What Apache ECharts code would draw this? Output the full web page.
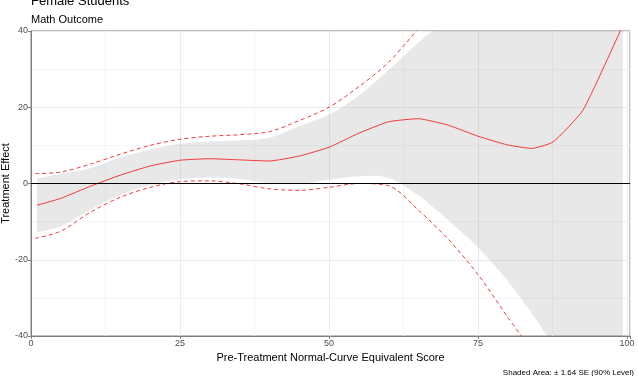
<!DOCTYPE html>
<html>
<head>
<meta charset="utf-8">
<script src="https://cdn.jsdelivr.net/npm/echarts@6/dist/echarts.min.js"></script>
<style>
  html, body { margin: 0; padding: 0; background: #fff; }
  #chart { width: 638px; height: 376px; }
</style>
</head>
<body>
<div id="chart"></div>
<script>
// fitted treatment effect
const fitX = [1, 5, 10, 15, 20, 25, 30, 35, 40, 45, 50, 55, 60, 65, 70, 75, 80, 84, 87.6, 92.6, 99];
const fitY = [-5.7, -3.9, -0.7, 2.2, 4.6, 6.1, 6.5, 6.2, 5.9, 7.2, 9.5, 13.2, 16.2, 17.0, 15.3, 12.4, 10.1, 9.2, 10.9, 19.2, 40.5];

// dashed bounds
const upX = [0.7, 5, 10, 15, 20, 25, 30, 35, 40, 45, 50, 55, 60, 64.8];
const upY = [2.6, 3.0, 5.1, 7.7, 10.0, 11.6, 12.4, 12.8, 13.6, 16.5, 20.0, 25.4, 31.8, 40.3];
const loX = [0.7, 5, 10, 15, 20, 25, 30, 35, 40, 45, 50, 55, 60, 65, 70, 75, 80, 82.4];
const loY = [-14.4, -12.5, -7.5, -3.6, -1.0, 0.5, 0.7, -0.1, -1.4, -1.8, -1.0, 0.0, -0.6, -7.0, -14.6, -23.9, -35.1, -40.3];

// shaded area (+/- 1.64 SE)
const bandX = [1, 5, 10, 15, 20, 25, 30, 35, 40, 45, 50, 55, 60, 65, 67.5, 70, 75, 80, 85, 86.8, 90, 95, 99.3];
const bandHi = [1.3, 2.5, 4.0, 6.8, 8.9, 10.4, 11.0, 11.3, 12.0, 15.0, 18.1, 23.1, 29.8, 37.0, 40, 40, 40, 40, 40, 40, 40, 40, 40];
const bandLo = [-12.7, -11.2, -6.8, -3.0, -0.3, 1.1, 1.6, 1.2, 0.1, 0.0, 1.0, 1.9, 1.5, -3.1, -6.3, -9.6, -16.8, -25.6, -36.2, -40, -40, -40, -40];

const xTicks = [0, 25, 50, 75, 100];
const yTicks = [-40, -20, 0, 20, 40];

const pairs = (xs, ys) => xs.map((x, i) => [x, ys[i]]);

// catmull-rom curve through pixel points, as svg path commands
function curve(pts, start) {
    let d = (start ? 'M' : 'L') + pts[0][0] + ' ' + pts[0][1];
    for (let i = 0; i < pts.length - 1; i++) {
        const p0 = pts[i - 1] || pts[i], p1 = pts[i], p2 = pts[i + 1], p3 = pts[i + 2] || p2;
        const c1 = [p1[0] + (p2[0] - p0[0]) / 6, p1[1] + (p2[1] - p0[1]) / 6];
        const c2 = [p2[0] - (p3[0] - p1[0]) / 6, p2[1] - (p3[1] - p1[1]) / 6];
        d += ' C' + c1.join(' ') + ' ' + c2.join(' ') + ' ' + p2.join(' ');
    }
    return d;
}

const chart = echarts.init(document.getElementById('chart'));
const fontFamily = '"Liberation Sans", Arial, sans-serif';
const tickColor = '#4d4d4d';

let option = {
    animation: false,
    backgroundColor: '#fff',
    textStyle: { fontFamily: fontFamily },
    title: [
        {
            text: 'Female Students', left: 31, top: -5, padding: 0,
            textStyle: { fontSize: 13, fontWeight: 'normal', color: '#000', fontFamily: fontFamily }
        },
        {
            text: 'Math Outcome', left: 31, top: 14, padding: 0,
            textStyle: { fontSize: 11, fontWeight: 'normal', color: '#000', fontFamily: fontFamily }
        },
        {
            text: 'Shaded Area: \u00b1 1.64 SE (90% Level)', right: 4, top: 369, padding: 0,
            textStyle: { fontSize: 8, fontWeight: 'normal', color: '#000', fontFamily: fontFamily }
        }
    ],
    grid: {
        left: 31, right: 8, top: 31, bottom: 40,
        outerBoundsMode: 'none', containLabel: false,
        show: true, borderColor: '#7f7f7f', borderWidth: 1, backgroundColor: '#fff'
    },
    xAxis: {
        type: 'value', min: 0, max: 100.5, interval: 25,
        name: 'Pre-Treatment Normal-Curve Equivalent Score',
        nameLocation: 'middle', nameGap: 16, nameMoveOverlap: false,
        nameTextStyle: { fontSize: 11, color: '#000' },
        axisLine: { show: true, onZero: false, lineStyle: { color: '#7f7f7f' } },
        axisTick: { show: true, length: 3, lineStyle: { color: '#7f7f7f' } },
        axisLabel: {
            fontSize: 9, color: tickColor, margin: 3, showMaxLabel: true,
            formatter: v => xTicks.indexOf(v) >= 0 ? String(v) : ''
        },
        splitLine: { show: true, lineStyle: { color: '#ebebeb', width: 1 } },
        minorTick: { show: false, splitNumber: 2 },
        minorSplitLine: { show: true, lineStyle: { color: '#f4f4f4', width: 1 } }
    },
    yAxis: {
        type: 'value', min: -40, max: 40, interval: 20,
        name: 'Treatment Effect',
        nameLocation: 'middle', nameGap: 20, nameMoveOverlap: false,
        nameTextStyle: { fontSize: 11, color: '#000' },
        axisLine: { show: true, lineStyle: { color: '#7f7f7f' } },
        axisTick: { show: true, length: 3, lineStyle: { color: '#7f7f7f' } },
        axisLabel: {
            fontSize: 9, color: tickColor, margin: 3,
            formatter: v => yTicks.indexOf(v) >= 0 ? String(v) : ''
        },
        splitLine: { show: true, lineStyle: { color: '#ebebeb', width: 1 } },
        minorTick: { show: false, splitNumber: 2 },
        minorSplitLine: { show: true, lineStyle: { color: '#f4f4f4', width: 1 } }
    },
    series: [
        { // shaded band
            type: 'custom', silent: true, clip: true, z: 1,
            data: [[0, 0]],
            renderItem: (params, api) => {
                const hi = bandX.map((x, i) => api.coord([x, bandHi[i]]));
                const lo = bandX.map((x, i) => api.coord([x, bandLo[i]])).reverse();
                return {
                    type: 'path',
                    shape: { pathData: curve(hi, true) + ' ' + curve(lo, false) + ' Z' },
                    style: { fill: 'rgba(150,150,150,0.22)', stroke: null }
                };
            }
        },
        { // zero line
            type: 'line', data: [], symbol: 'none',
            markLine: {
                silent: true, symbol: 'none', label: { show: false },
                lineStyle: { color: '#000', width: 1, type: 'solid' },
                data: [{ yAxis: 0 }]
            }
        },
        {
            type: 'line', symbol: 'none', smooth: 0.3,
            data: pairs(upX, upY),
            lineStyle: { color: '#f03a3a', width: 1, type: [4, 3] }
        },
        {
            type: 'line', symbol: 'none', smooth: 0.3,
            data: pairs(loX, loY),
            lineStyle: { color: '#f03a3a', width: 1, type: [4, 3] }
        },
        {
            type: 'line', symbol: 'none', smooth: 0.15,
            data: pairs(fitX, fitY),
            lineStyle: { color: '#f03a3a', width: 1 }
        }
    ]
};
chart.setOption(option);
</script>
</body>
</html>
